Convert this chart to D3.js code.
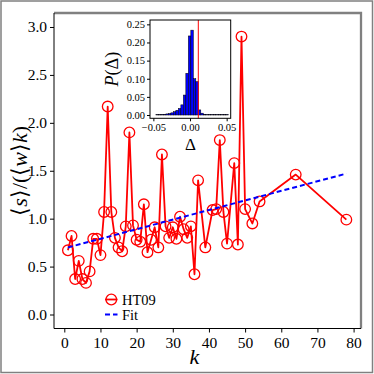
<!DOCTYPE html>
<html>
<head>
<meta charset="utf-8">
<script src="https://cdn.jsdelivr.net/npm/d3@7"></script>
<style>
  html, body { margin: 0; padding: 0; background: #fff; }
  svg { display: block; }
</style>
</head>
<body>
<div id="chart"></div>
<script>
// degree k and normalised strength for HT09
let kValues = [1, 2, 3, 4, 5, 6, 7, 8, 9, 10, 11, 12, 13, 14, 15, 16, 17, 18, 19, 20,
  21, 22, 23, 24, 25, 26, 27, 28, 29, 30, 31, 32, 33, 34, 35, 36, 37, 39, 41, 42,
  43, 44, 45, 47, 48, 49, 50, 52, 54, 64, 78];
let sValues = [0.67, 0.82, 0.37, 0.56, 0.37, 0.33, 0.45, 0.79, 0.79, 0.62, 1.07, 2.17, 1.07, 0.80, 0.70, 0.66, 0.92, 1.90, 0.93, 0.78,
  0.76, 1.15, 0.65, 0.78, 0.91, 0.70, 1.67, 0.92, 0.80, 0.91, 0.79, 1.02, 0.89, 0.80, 0.92, 0.42, 1.40, 0.70, 1.09, 1.10,
  1.82, 1.07, 0.74, 1.58, 0.73, 2.90, 1.10, 0.95, 1.18, 1.46, 0.99];

// linear fit
let fitK = [1, 78];
let fitS = [0.70, 1.47];

// inset histogram of Delta (left bin edges and heights)
let binLefts = [-0.0465, -0.0431, -0.0397, -0.0363, -0.0329, -0.0295, -0.0261, -0.0227, -0.0193, -0.0159,
  -0.0125, -0.0091, -0.0057, -0.0023, 0.0011, 0.0045, 0.0079, 0.0113, 0.0147, 0.0181,
  0.0215, 0.0249, 0.0283, 0.0317, 0.0351, 0.0385, 0.0419, 0.0453, 0.0487];
let binHeights = [0.001, 0.001, 0.0015, 0.002, 0.003, 0.004, 0.006, 0.009, 0.013, 0.018,
  0.028, 0.055, 0.115, 0.218, 0.234, 0.100, 0.092, 0.014, 0.005, 0.002,
  0.001, 0.001, 0.001, 0.001, 0.001, 0.001, 0.001, 0.001, 0.001];
let binWidth = 0.0034;
let deltaMark = 0.0113;

let xTicks = [0, 10, 20, 30, 40, 50, 60, 70, 80];
let yTicks = [0.0, 0.5, 1.0, 1.5, 2.0, 2.5, 3.0];
let insetXTicks = [-0.05, 0, 0.05];
let insetYTicks = [0, 0.05, 0.10, 0.15, 0.20, 0.25];

let SERIF = '"Liberation Serif"';

let W = 374, H = 374;
let svg = d3.select("#chart").append("svg")
  .attr("width", W)
  .attr("height", H);

svg.append("rect")
  .attr("width", W).attr("height", H)
  .attr("fill", "#fff");

// figure border
svg.append("rect")
  .attr("x", 1).attr("y", 1)
  .attr("width", 371.5).attr("height", 371.5)
  .attr("fill", "none")
  .attr("stroke", "#808080")
  .attr("stroke-width", 1.5);

let plot = { left: 54, right: 361, top: 13, bottom: 328.5 };

let xScale = d3.scaleLinear().domain([-2.85, 82.05]).range([plot.left, plot.right]);
let yScale = d3.scaleLinear().domain([-0.146, 3.146]).range([plot.bottom, plot.top]);

// top and right spines (gray, thick)
svg.append("path")
  .attr("d", "M" + plot.left + "," + plot.top + "H" + plot.right + "V" + plot.bottom)
  .attr("fill", "none")
  .attr("stroke", "#808080")
  .attr("stroke-width", 2.3);

// axes
let xAxis = d3.axisBottom(xScale).tickValues(xTicks).tickSize(4).tickPadding(4)
  .tickFormat(d3.format("d"));
let gx = svg.append("g")
  .attr("transform", "translate(0," + plot.bottom + ")")
  .call(xAxis);
gx.select(".domain").attr("d", "M" + plot.left + ",0H" + plot.right);

let yAxis = d3.axisLeft(yScale).tickValues(yTicks).tickSize(4).tickPadding(3)
  .tickFormat(d3.format(".1f"));
let gy = svg.append("g")
  .attr("transform", "translate(" + plot.left + ",0)")
  .call(yAxis);
gy.select(".domain").attr("d", "M0," + plot.bottom + "V" + plot.top);

[gx, gy].forEach(function(g) {
  g.attr("font-family", null);
  g.selectAll("text")
    .style("font-family", SERIF)
    .style("font-size", "15.5px")
    .attr("fill", "#000");
  g.selectAll("line, path").attr("stroke", "#000").attr("stroke-width", 1);
});

// HT09 line and markers
let points = kValues.map(function(k, i) { return [k, sValues[i]]; });
let line = d3.line()
  .x(function(d) { return xScale(d[0]); })
  .y(function(d) { return yScale(d[1]); });

svg.append("path")
  .attr("d", line(points))
  .attr("fill", "none")
  .attr("stroke", "#ff0000")
  .attr("stroke-width", 1.8)
  .attr("stroke-linejoin", "round");

svg.selectAll(".marker")
  .data(points)
  .enter()
  .append("circle")
    .attr("class", "marker")
    .attr("cx", function(d) { return xScale(d[0]); })
    .attr("cy", function(d) { return yScale(d[1]); })
    .attr("r", 5.3)
    .attr("fill", "none")
    .attr("stroke", "#ff0000")
    .attr("stroke-width", 1.3);

// fit line
let fitPoints = fitK.map(function(k, i) { return [k, fitS[i]]; });
svg.append("path")
  .attr("d", line(fitPoints))
  .attr("fill", "none")
  .attr("stroke", "#0000ff")
  .attr("stroke-width", 2)
  .attr("stroke-dasharray", "5,3");

// axis labels
svg.append("text")
  .attr("x", xScale(36))
  .attr("y", 364)
  .attr("text-anchor", "middle")
  .style("font-family", SERIF)
  .style("font-size", "22px")
  .style("font-style", "italic")
  .text("k");

let yLabel = svg.append("text")
  .attr("transform", "translate(27," + ((plot.top + plot.bottom) / 2) + ") rotate(-90)")
  .attr("text-anchor", "middle")
  .style("font-family", SERIF)
  .style("font-size", "22px");
yLabel.append("tspan").text("\u27E8");
yLabel.append("tspan").style("font-style", "italic").text("s");
yLabel.append("tspan").text("\u27E9/(\u27E8");
yLabel.append("tspan").style("font-style", "italic").text("w");
yLabel.append("tspan").text("\u27E9");
yLabel.append("tspan").style("font-style", "italic").text("k");
yLabel.append("tspan").text(")");

// legend
let legend = svg.append("g");
legend.append("line")
  .attr("x1", 105).attr("x2", 117.5).attr("y1", 299.5).attr("y2", 299.5)
  .attr("stroke", "#ff0000").attr("stroke-width", 1.8);
legend.append("circle")
  .attr("cx", 111.3).attr("cy", 299.5).attr("r", 5.3)
  .attr("fill", "none").attr("stroke", "#ff0000").attr("stroke-width", 1.3);
legend.append("text")
  .attr("x", 122).attr("y", 304.5)
  .style("font-family", SERIF)
  .style("font-size", "14.5px")
  .text("HT09");
legend.append("line")
  .attr("x1", 105).attr("x2", 117.5).attr("y1", 314.5).attr("y2", 314.5)
  .attr("stroke", "#0000ff").attr("stroke-width", 2)
  .attr("stroke-dasharray", "5,3");
legend.append("text")
  .attr("x", 122).attr("y", 319.5)
  .style("font-family", SERIF)
  .style("font-size", "14.5px")
  .text("Fit");

// inset
let inset = { left: 150, right: 230.7, top: 20, bottom: 118.3 };
let ixScale = d3.scaleLinear().domain([-0.0546, 0.0555]).range([inset.left, inset.right]);
let iyScale = d3.scaleLinear().domain([-0.0091, 0.262]).range([inset.bottom, inset.top]);

svg.append("rect")
  .attr("x", inset.left).attr("y", inset.top)
  .attr("width", inset.right - inset.left)
  .attr("height", inset.bottom - inset.top)
  .attr("fill", "#fff");

svg.selectAll(".bar")
  .data(binLefts)
  .enter()
  .append("rect")
    .attr("class", "bar")
    .attr("x", function(d) { return ixScale(d); })
    .attr("y", function(d, i) { return iyScale(binHeights[i]); })
    .attr("width", function(d) { return ixScale(d + binWidth) - ixScale(d); })
    .attr("height", function(d, i) { return iyScale(0) - iyScale(binHeights[i]); })
    .attr("fill", "#0000ff")
    .attr("stroke", "#000")
    .attr("stroke-width", 0.5);

svg.append("line")
  .attr("x1", ixScale(deltaMark)).attr("x2", ixScale(deltaMark))
  .attr("y1", inset.top).attr("y2", inset.bottom)
  .attr("stroke", "#ff0000")
  .attr("stroke-width", 1);

svg.append("rect")
  .attr("x", inset.left).attr("y", inset.top)
  .attr("width", inset.right - inset.left)
  .attr("height", inset.bottom - inset.top)
  .attr("fill", "none")
  .attr("stroke", "#000")
  .attr("stroke-width", 1);

let minusFmt = function(f) {
  return function(d) { return d3.format(f)(d).replace("-", "\u2212"); };
};

let igx = svg.append("g")
  .attr("transform", "translate(0," + inset.bottom + ")")
  .call(d3.axisBottom(ixScale).tickValues(insetXTicks).tickSize(3).tickPadding(2)
    .tickFormat(minusFmt(".2f")));
igx.select(".domain").remove();

let igy = svg.append("g")
  .attr("transform", "translate(" + inset.left + ",0)")
  .call(d3.axisLeft(iyScale).tickValues(insetYTicks).tickSize(3).tickPadding(2)
    .tickFormat(d3.format(".2f")));
igy.select(".domain").remove();

[igx, igy].forEach(function(g) {
  g.attr("font-family", null);
  g.selectAll("text")
    .style("font-family", SERIF)
    .style("font-size", "10.5px")
    .attr("fill", "#000");
  g.selectAll("line").attr("stroke", "#000");
});

svg.append("text")
  .attr("x", (inset.left + inset.right) / 2)
  .attr("y", 149.5)
  .attr("text-anchor", "middle")
  .style("font-family", SERIF)
  .style("font-size", "17px")
  .text("\u0394");

let pLabel = svg.append("text")
  .attr("transform", "translate(118," + ((inset.top + inset.bottom) / 2) + ") rotate(-90)")
  .attr("text-anchor", "middle")
  .style("font-family", SERIF)
  .style("font-size", "18px");
pLabel.append("tspan").style("font-style", "italic").text("P");
pLabel.append("tspan").text("(\u0394)");
</script>
</body>
</html>
